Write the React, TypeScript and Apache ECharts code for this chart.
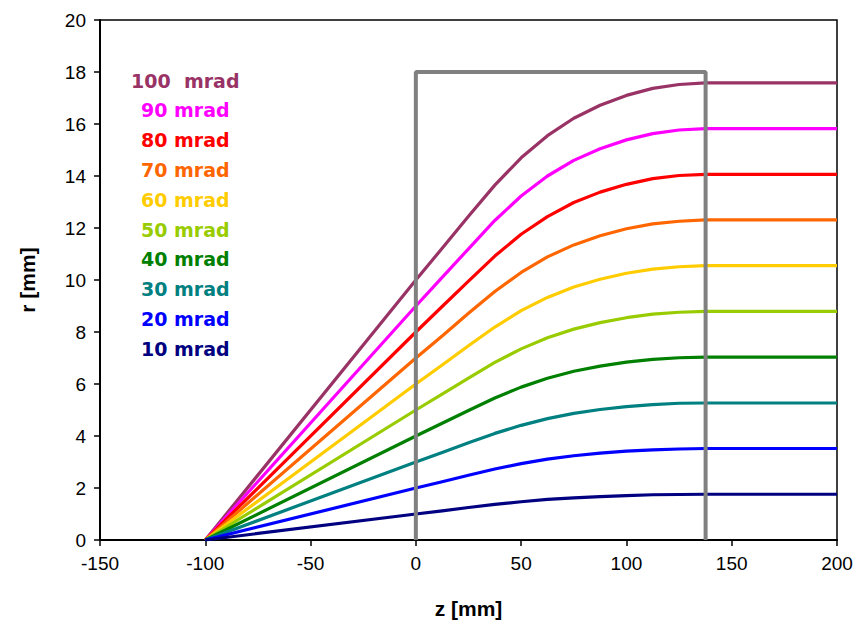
import React, { useEffect, useRef } from "react";
import * as echarts from "echarts";

const zValues = [-100, 0, 12.5, 25, 37.5, 50, 62.5, 75, 87.5, 100, 112.5, 125, 137.5, 200];

const seriesNames = ["100  mrad", "90 mrad", "80 mrad", "70 mrad", "60 mrad", "50 mrad", "40 mrad", "30 mrad", "20 mrad", "10 mrad"];
const seriesColors = ["#993366", "#FF00FF", "#FF0000", "#FF6600", "#FFCC00", "#99CC00", "#008000", "#008080", "#0000FF", "#000080"];

const r100 = [0, 10, 11.22, 12.45, 13.65, 14.7, 15.55, 16.22, 16.72, 17.1, 17.37, 17.52, 17.58, 17.58];
const r90 = [0, 9, 10.1, 11.2, 12.29, 13.23, 14.0, 14.6, 15.05, 15.39, 15.63, 15.77, 15.82, 15.82];
const r80 = [0, 8, 8.98, 9.96, 10.92, 11.76, 12.44, 12.98, 13.38, 13.68, 13.9, 14.02, 14.06, 14.06];
const r70 = [0, 7, 7.85, 8.72, 9.56, 10.29, 10.89, 11.35, 11.7, 11.97, 12.16, 12.26, 12.31, 12.31];
const r60 = [0, 6, 6.73, 7.47, 8.19, 8.82, 9.33, 9.73, 10.03, 10.26, 10.42, 10.51, 10.55, 10.55];
const r50 = [0, 5, 5.61, 6.23, 6.83, 7.35, 7.78, 8.11, 8.36, 8.55, 8.69, 8.76, 8.79, 8.79];
const r40 = [0, 4, 4.49, 4.98, 5.46, 5.88, 6.22, 6.49, 6.69, 6.84, 6.95, 7.01, 7.03, 7.03];
const r30 = [0, 3, 3.37, 3.74, 4.1, 4.41, 4.67, 4.87, 5.02, 5.13, 5.21, 5.26, 5.27, 5.27];
const r20 = [0, 2, 2.24, 2.49, 2.73, 2.94, 3.11, 3.24, 3.34, 3.42, 3.47, 3.5, 3.52, 3.52];
const r10 = [0, 1, 1.12, 1.25, 1.37, 1.47, 1.56, 1.62, 1.67, 1.71, 1.74, 1.75, 1.76, 1.76];

const seriesValues = [r100, r90, r80, r70, r60, r50, r40, r30, r20, r10];

const boxZ = [0, 0, 137.6, 137.6];
const boxR = [0, 18, 18, 0];

export default function App() {
  const ref = useRef<HTMLDivElement>(null);
  useEffect(() => {
    if (!ref.current) return;
    const chart = echarts.init(ref.current, null, { renderer: "svg" });
    const lineSeries: any[] = seriesValues.map((vals, i) => ({
      type: "line",
      name: seriesNames[i],
      data: zValues.map((z, j) => [z, vals[j]]),
      showSymbol: false,
      smooth: false,
      lineStyle: { color: seriesColors[i], width: 3.2, join: "round" },
      itemStyle: { color: seriesColors[i] },
      z: 3,
    }));
    lineSeries.push({
      type: "line",
      name: "box",
      data: boxZ.map((z, j) => [z, boxR[j]]),
      showSymbol: false,
      lineStyle: { color: "#808080", width: 4 },
      z: 4,
    });
    const legendTexts = seriesNames.map((n, i) => ({
      type: "text",
      left: i === 0 ? 131 : 141,
      top: 71 + i * 29.8,
      style: {
        text: n,
        fill: seriesColors[i],
        font: "bold 19px 'DejaVu Sans'",
      },
      z: 10,
    }));
    chart.setOption({
      animation: false,
      backgroundColor: "#ffffff",
      grid: { left: 100, right: 20, top: 20, bottom: 92, show: true, borderColor: "#000", borderWidth: 1.5, backgroundColor: "transparent" },
      xAxis: {
        type: "value",
        min: -150,
        max: 200,
        interval: 50,
        name: "z [mm]",
        nameLocation: "middle",
        nameGap: 58,
        nameTextStyle: { fontFamily: "Liberation Sans", fontWeight: "bold", fontSize: 21, color: "#000" },
        axisLine: { show: true, onZero: false, lineStyle: { color: "#000", width: 2 } },
        axisTick: { show: true, length: 6, lineStyle: { color: "#000", width: 1.5 } },
        axisLabel: { fontFamily: "Liberation Sans", fontSize: 19, color: "#000", margin: 14 },
        splitLine: { show: false },
      },
      yAxis: {
        type: "value",
        min: 0,
        max: 20,
        interval: 2,
        name: "r [mm]",
        nameLocation: "middle",
        nameGap: 62,
        nameRotate: 90,
        nameTextStyle: { fontFamily: "Liberation Sans", fontWeight: "bold", fontSize: 21, color: "#000" },
        axisLine: { show: true, onZero: false, lineStyle: { color: "#000", width: 2 } },
        axisTick: { show: true, length: 6, lineStyle: { color: "#000", width: 1.5 } },
        axisLabel: { fontFamily: "Liberation Sans", fontSize: 19, color: "#000", margin: 14 },
        splitLine: { show: false },
      },
      series: lineSeries,
      graphic: legendTexts,
    });
    return () => chart.dispose();
  }, []);
  return <div ref={ref} style={{ width: 857, height: 632, position: "absolute", left: 0, top: 0 }} />;
}
